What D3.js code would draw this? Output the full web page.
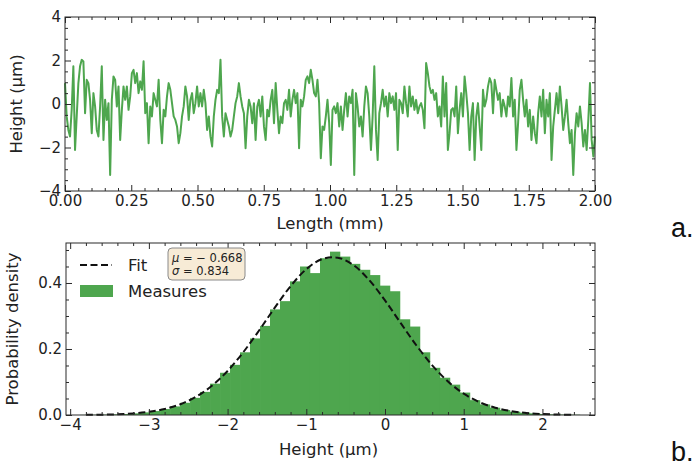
<!DOCTYPE html>
<html><head><meta charset="utf-8">
<script src="https://cdn.jsdelivr.net/npm/d3@7/dist/d3.min.js"></script>
<style>body{margin:0;background:#fff}svg{display:block}</style>
</head><body><svg id="c" width="698" height="463"></svg>
<script>
// ---- DATA ----
const heights = [
0.96,-0.57,-1.19,-1.49,-0.27,1.73,-2.11,-0.57,0.96,1.73,
2.03,1.96,-0.42,1.11,0.96,0.19,-1.34,0.50,-0.11,-1.19,
-1.49,-0.11,1.73,-1.65,0.19,-0.73,0.04,-3.26,0.19,1.27,
1.11,-0.11,0.81,-1.65,-0.27,0.81,0.19,0.81,-0.27,0.35,
1.42,1.57,0.96,1.42,0.50,1.04,0.65,1.96,-0.42,0.04,
-1.80,-0.11,-0.57,0.50,0.19,-0.11,1.11,-0.73,-1.80,-0.27,
-0.57,0.35,0.96,0.65,0.04,-0.57,-0.73,-1.03,-1.80,-1.34,
-0.57,-0.11,0.81,0.35,-0.73,0.19,0.50,-0.42,0.04,0.81,
-0.11,
0.50,-0.11,0.65,0.04,-1.19,-0.57,-1.49,-1.95,-0.57,0.19,
0.65,0.50,2.03,-0.57,-1.49,-0.42,-0.73,-1.03,-1.49,-1.19,
-0.57,0.04,0.35,0.96,0.35,-0.11,-0.42,-2.03,-0.57,0.19,
-0.11,-0.88,0.04,-1.65,-0.11,0.19,-0.57,0.35,-1.03,-1.65,
-0.27,-0.57,0.19,0.65,-0.88,0.96,-0.27,-1.34,-0.57,-0.88,
0.04,0.19,-0.27,0.65,-0.57,0.19,0.65,0.04,0.50,-2.03,
0.19,-0.11,0.35,1.11,1.27,0.96,1.57,1.11,0.50,0.35,
1.11,0.04,-2.49,-1.03,-1.19,-0.57,0.19,-0.88,-2.80,
-0.27,-0.11,-0.42,0.04,-1.03,-0.11,-1.19,-0.27,0.50,-0.57,
0.35,0.04,0.65,-3.26,0.50,-0.11,-1.03,-0.57,-1.49,-0.11,
0.81,0.50,-0.57,-2.11,-0.57,1.73,-1.19,-2.57,-0.42,0.04,
0.65,-0.11,0.35,-0.57,0.50,0.04,0.35,-0.27,0.50,-2.11,
0.19,0.04,-0.42,0.81,0.04,-0.57,0.81,-0.11,0.35,-0.27,
0.19,-0.42,-0.11,0.04,-0.27,-1.11,1.88,1.42,0.81,0.50,
0.65,0.19,0.50,-0.57,-0.11,-1.03,1.27,-0.57,0.96,-2.11,
-1.34,-0.27,-0.19,-0.57,0.81,-1.34,-0.27,0.50,-0.57,
1.27,0.50,-0.42,-2.11,-0.57,0.04,-2.57,-0.57,0.04,-1.03,
-2.11,0.65,-0.11,0.19,0.81,1.19,0.96,-0.42,1.11,0.65,
0.19,0.50,-0.57,0.19,-0.11,-0.57,0.35,-0.11,1.19,-0.57,
0.19,-2.11,-0.88,0.65,1.11,0.19,-0.57,0.19,-1.03,-0.27,
-1.65,-0.57,-1.34,-1.80,-0.42,0.35,-0.57,0.65,-1.34,0.19,
-0.57,0.50,-2.57,-1.03,-0.27,0.50,-0.42,0.81,-0.11,-1.19,
-0.57,0.19,-0.88,-1.80,-1.19,-3.26,-1.34,-0.42,-1.03,-0.11,
-0.88,-1.95,-1.19,-2.11,-0.73,0.96,-1.65,-2.41,-1.49
];
const lengthExtent = [0, 2];           // mm, samples evenly spaced
const lengthTicks = [0,0.25,0.5,0.75,1,1.25,1.5,1.75,2];
const heightTicksTop = [-4,-2,0,2,4];

const binStart = -3.874, binWidth = 0.127;
const densities = [
0.0004,0.0007,0.0012,0.002,0.003,0.005,0.008,0.012,0.018,0.026,
0.037,0.052,0.07,0.095,0.128,0.152,0.19,0.232,0.27,0.32,
0.345,0.405,0.45,0.43,0.475,0.495,0.48,0.458,0.44,0.424,
0.392,0.375,0.29,0.268,0.19,0.143,0.113,0.092,0.068,0.045,
0.032,0.022,0.015,0.01,0.007,0.005,0.003,0.002,0.0012,0.0008
];
const fitX = [-3.8,-3.6,-3.4,-3.2,-3.0,-2.8,-2.6,-2.4,-2.2,-2.0,-1.8,-1.6,-1.4,-1.2,-1.0,-0.8,-0.6,-0.4,-0.2,0.0,0.2,0.4,0.6,0.8,1.0,1.2,1.4,1.6,1.8,2.0,2.2,2.4];
const fitY = [0.0004,0.001,0.0022,0.0048,0.0096,0.0182,0.0327,0.0553,0.0885,0.1335,0.1905,0.2561,0.3253,0.3903,0.4419,0.4724,0.4767,0.4542,0.4086,0.3471,0.2783,0.2106,0.1506,0.1016,0.0647,0.0389,0.0221,0.0119,0.006,0.0029,0.0013,0.0006];
const histXTicks = [-4,-3,-2,-1,0,1,2];
const histYTicks = [0,0.2,0.4];
const fitParams = {mu: "\u2212 0.668", sigma: "0.834"};

// ---- DRAW ----
const svg = d3.select("#c");
const green = "#4ea64e";
const axisCol = "#2a2a2a";
const FONT = "DejaVu Sans, sans-serif";

function frameAxes(g, x, y, W, H, o) {
  const mk = (ax, tr, major, minor, fmt, showLbl) => {
    const a = g.append("g").attr("transform", tr)
      .call(ax.tickValues(major).tickSize(-6).tickPadding(4).tickFormat(showLbl ? fmt : ""));
    a.select(".domain").remove();
    const b = g.append("g").attr("transform", tr)
      .call(ax.tickValues(minor).tickSize(-3).tickFormat(""));
    b.select(".domain").remove();
    return a;
  };
  mk(d3.axisBottom(x), `translate(0,${H})`, o.xMajor, o.xMinor, o.xFmt, true);
  mk(d3.axisTop(x), `translate(0,0)`, o.xMajor, o.xMinor, o.xFmt, false);
  mk(d3.axisLeft(y), `translate(0,0)`, o.yMajor, o.yMinor, o.yFmt, true);
  mk(d3.axisRight(y), `translate(${W},0)`, o.yMajor, o.yMinor, o.yFmt, false);
  g.selectAll(".tick line").attr("stroke", axisCol);
  g.selectAll(".tick text").attr("font-family", FONT).attr("font-size", 15).attr("fill", "#222");
  g.append("rect").attr("width", W).attr("height", H).attr("fill", "none").attr("stroke", axisCol).attr("stroke-width", 1);
}

// Top plot
{
  const L = 65, T = 17, W = 530, H = 174;
  const g = svg.append("g").attr("transform", `translate(${L},${T})`);
  const x = d3.scaleLinear().domain(lengthExtent).range([0, W]);
  const y = d3.scaleLinear().domain([-4, 4]).range([H, 0]);
  const n = heights.length;
  const pts = heights.map((h, i) => [lengthExtent[0] + i * (lengthExtent[1] - lengthExtent[0]) / (n - 1), h]);
  g.append("path").datum(pts)
    .attr("d", d3.line().x(d => x(d[0])).y(d => y(d[1])))
    .attr("fill", "none").attr("stroke", green).attr("stroke-width", 2).attr("stroke-linejoin", "round");
  frameAxes(g, x, y, W, H, {
    xMajor: lengthTicks, xMinor: d3.range(0, 41).map(i => i * 0.05).filter(v => Math.abs(v * 4 - Math.round(v * 4)) > 1e-6),
    yMajor: heightTicksTop, yMinor: d3.range(-8, 9).map(i => i * 0.5).filter(v => v % 2 !== 0),
    xFmt: d3.format(".2f"), yFmt: d3.format("d")
  });
  g.append("text").attr("x", W / 2).attr("y", H + 38).attr("text-anchor", "middle")
    .attr("font-family", FONT).attr("font-size", 16.5).attr("fill", "#222").text("Length (mm)");
  g.append("text").attr("transform", `translate(${-43},${H / 2}) rotate(-90)`).attr("text-anchor", "middle")
    .attr("font-family", FONT).attr("font-size", 16.5).attr("fill", "#222").text("Height (\u03bcm)");
}

// Bottom plot
{
  const L = 66, T = 243, W = 529, H = 172;
  const g = svg.append("g").attr("transform", `translate(${L},${T})`);
  const x = d3.scaleLinear().domain([-4.053, 2.668]).range([0, W]);
  const y = d3.scaleLinear().domain([0, 0.5212]).range([H, 0]);
  g.selectAll("rect.bar").data(densities).join("rect").attr("class", "bar")
    .attr("x", (d, i) => x(binStart + i * binWidth))
    .attr("width", (d, i) => x(binStart + (i + 1) * binWidth) - x(binStart + i * binWidth) + 0.3)
    .attr("y", d => y(d)).attr("height", d => H - y(d))
    .attr("fill", green);
  g.append("path").datum(fitX.map((v, i) => [v, fitY[i]]))
    .attr("d", d3.line().x(d => x(d[0])).y(d => y(d[1])).curve(d3.curveCatmullRom))
    .attr("fill", "none").attr("stroke", "#111").attr("stroke-width", 2).attr("stroke-dasharray", "7,3.5");
  frameAxes(g, x, y, W, H, {
    xMajor: histXTicks, xMinor: d3.range(-20, 14).map(i => i * 0.2).filter(v => Math.abs(v - Math.round(v)) > 1e-6),
    yMajor: histYTicks, yMinor: d3.range(1, 11).map(i => i * 0.05).filter(v => Math.abs(v * 5 - Math.round(v * 5)) > 1e-6),
    xFmt: d3.format("d"), yFmt: d3.format(".1f")
  });
  g.append("text").attr("x", W / 2 - 2).attr("y", H + 40).attr("text-anchor", "middle")
    .attr("font-family", FONT).attr("font-size", 16.5).attr("fill", "#222").text("Height (\u03bcm)");
  g.append("text").attr("transform", `translate(${-48},${H / 2}) rotate(-90)`).attr("text-anchor", "middle")
    .attr("font-family", FONT).attr("font-size", 16.5).attr("fill", "#222").text("Probability density");

  // legend
  const lg = g.append("g").attr("transform", "translate(14,0)");
  lg.append("line").attr("x1", 0).attr("x2", 32).attr("y1", 22).attr("y2", 22)
    .attr("stroke", "#111").attr("stroke-width", 2).attr("stroke-dasharray", "7,3.5");
  lg.append("text").attr("x", 48).attr("y", 28).attr("font-family", FONT).attr("font-size", 16.5).attr("fill", "#222").text("Fit");
  lg.append("rect").attr("x", 0).attr("y", 42).attr("width", 33).attr("height", 12).attr("fill", green);
  lg.append("text").attr("x", 48).attr("y", 54).attr("font-family", FONT).attr("font-size", 16.5).attr("fill", "#222").text("Measures");

  // annotation box
  const bx = g.append("g").attr("transform", "translate(102,5)");
  bx.append("rect").attr("width", 77).attr("height", 32).attr("rx", 4)
    .attr("fill", "#f7ebd6").attr("stroke", "#8a8a8a").attr("stroke-width", 1);
  const t1 = bx.append("text").attr("x", 4).attr("y", 14).attr("font-family", FONT).attr("font-size", 11.5).attr("fill", "#222");
  t1.append("tspan").attr("font-style", "italic").text("\u03bc");
  t1.append("tspan").text(" = " + fitParams.mu);
  const t2 = bx.append("text").attr("x", 4).attr("y", 27).attr("font-family", FONT).attr("font-size", 11.5).attr("fill", "#222");
  t2.append("tspan").attr("font-style", "italic").text("\u03c3");
  t2.append("tspan").text(" = " + fitParams.sigma);
}

// panel letters
svg.append("text").attr("x", 671).attr("y", 237).attr("font-family", "Liberation Sans, Arial, sans-serif").attr("font-size", 27).attr("fill", "#111").text("a.");
svg.append("text").attr("x", 671).attr("y", 461).attr("font-family", "Liberation Sans, Arial, sans-serif").attr("font-size", 27).attr("fill", "#111").text("b.");
</script></body></html>
